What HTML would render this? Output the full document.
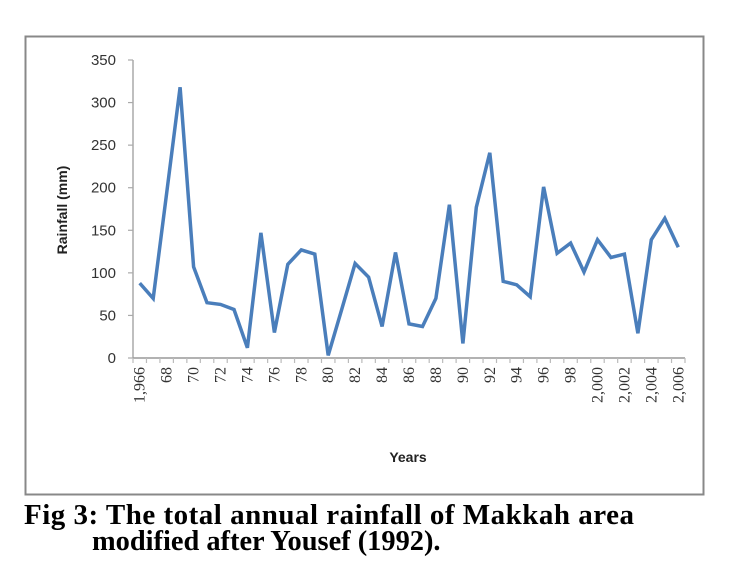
<!DOCTYPE html>
<html><head><meta charset="utf-8"><style>
body{margin:0;background:#fff;width:729px;height:566px;overflow:hidden;position:relative}
.cap{position:absolute;font-family:"Liberation Serif",serif;font-weight:bold;font-size:29px;line-height:1;color:#000;white-space:nowrap}
</style></head><body>
<svg id="chart" width="729" height="500" style="position:absolute;left:0;top:0" xmlns="http://www.w3.org/2000/svg">
<rect x="25.5" y="36.5" width="678" height="458" fill="#fff" stroke="#888" stroke-width="2"/>
<g id="yaxis"></g>
<g id="xaxis"></g>
<g id="series"></g>
<text transform="translate(67,210) rotate(-90)" text-anchor="middle" font-family="Liberation Sans,sans-serif" font-weight="bold" font-size="14" fill="#222">Rainfall (mm)</text>
<text x="408" y="462" text-anchor="middle" font-family="Liberation Sans,sans-serif" font-weight="bold" font-size="14" fill="#222">Years</text>
</svg>
<div class="cap" style="left:24px;top:501px;letter-spacing:0.5px">Fig 3: The total annual rainfall of Makkah area</div>
<div class="cap" style="left:92px;top:528px;font-size:28.4px">modified after Yousef (1992).</div>
<script>
const years=[1966,1967,1968,1969,1970,1971,1972,1973,1974,1975,1976,1977,1978,1979,1980,1981,1982,1983,1984,1985,1986,1987,1988,1989,1990,1991,1992,1993,1994,1995,1996,1997,1998,1999,2000,2001,2002,2003,2004,2005,2006];
const rainfall=[88,70,194,318,107,65,63,57,12,147,30,110,127,122,3,57,111,95,37,124,40,37,70,180,17,177,241,90,86,72,201,123,135,101,139,118,122,29,139,164,130];
const yTicks=[0,50,100,150,200,250,300,350];
const xLabels=["1,966","68","70","72","74","76","78","80","82","84","86","88","90","92","94","96","98","2,000","2,002","2,004","2,006"];
const NS="http://www.w3.org/2000/svg";
const x0=133,x1=685,y0=358,y1=60;
const step=(x1-x0)/years.length;
function xs(i){return x0+step*(i+0.5);}
function ys(v){return y0-(v/350)*(y0-y1);}
function mk(t,a,p){const e=document.createElementNS(NS,t);for(const k in a)e.setAttribute(k,a[k]);p.appendChild(e);return e;}
const ya=document.getElementById('yaxis'),xa=document.getElementById('xaxis'),se=document.getElementById('series');
const yl=mk('line',{x1:x0,y1:y1,x2:x0,y2:y0,stroke:'#aaa','stroke-width':1.5},ya);


yTicks.forEach(v=>{
  const t=mk('line',{x1:x0-5,y1:ys(v),x2:x0,y2:ys(v),stroke:'#aaa','stroke-width':1.2},ya);
  
  
  const l=mk('text',{x:116,y:ys(v)+5,'text-anchor':'end','font-family':'Liberation Sans,sans-serif','font-size':15,fill:'#333'},ya);
  
  
  l.textContent=v;
});
const xl=mk('line',{x1:x0,y1:y0,x2:x1,y2:y0,stroke:'#999','stroke-width':1.5},xa);


for(let i=0;i<=years.length;i++){
  const t=mk('line',{x1:x0+step*i,y1:y0,x2:x0+step*i,y2:y0+5,stroke:'#bbb','stroke-width':1.2},xa);
  
  
}
xLabels.forEach((s,k)=>{
  const i=k*2,cx=xs(i)+5;
  const l=mk('text',{transform:`translate(${cx},367) rotate(-90)`,'text-anchor':'end','font-family':'Liberation Serif,serif','font-size':16,fill:'#333'},xa);
  
  
  l.textContent=s;
});
const pts=rainfall.map((v,i)=>xs(i).toFixed(1)+','+ys(v).toFixed(1)).join(' ');
const pl=mk('polyline',{points:pts,fill:'none',stroke:'#4a7ebb','stroke-width':3.5,'stroke-linejoin':'miter','stroke-miterlimit':3},se);


</script>
</body></html>
